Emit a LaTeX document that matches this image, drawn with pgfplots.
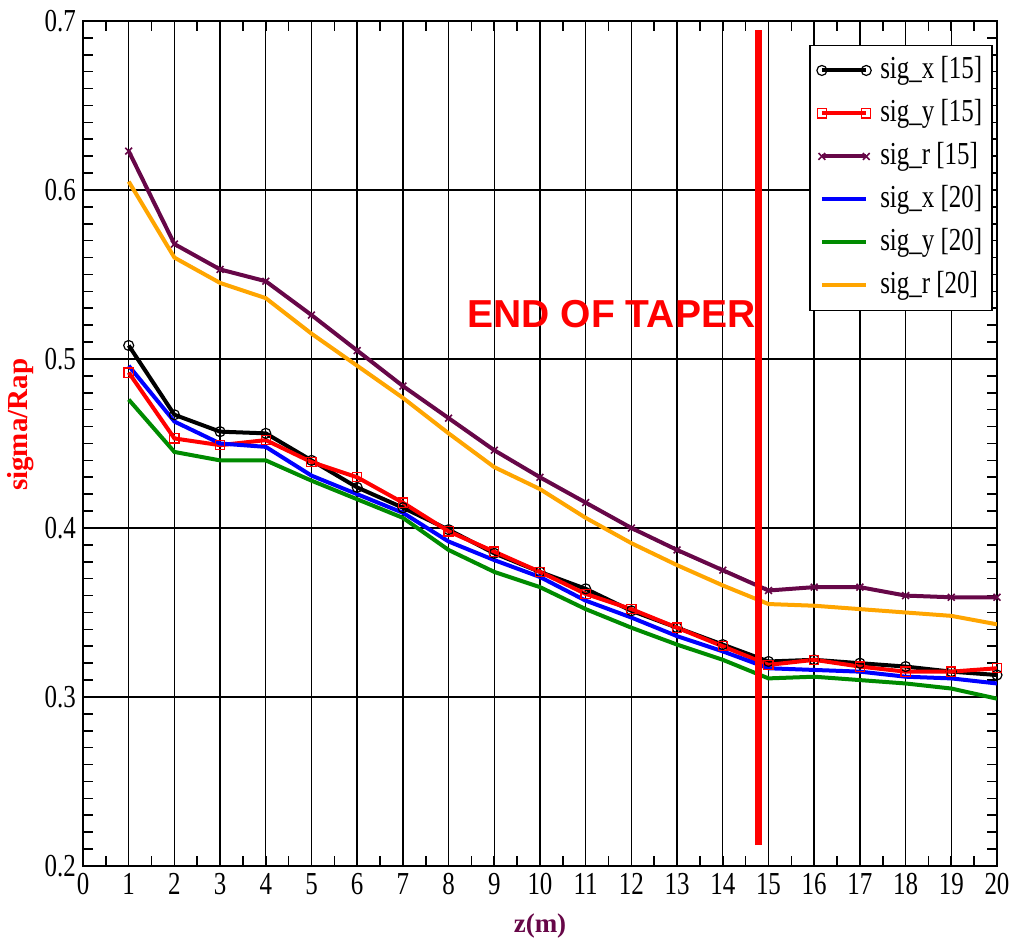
\documentclass[border=0pt]{standalone}
\usepackage{fontspec}
\setmainfont{Liberation Serif}[FakeStretch=0.78]
\newfontfamily\plainserif{Liberation Serif}
\newfontfamily\arialfont{Liberation Sans}
\usepackage{pgfplots}
\pgfplotsset{compat=1.18}
\definecolor{gmaroon}{RGB}{103,7,72}
\definecolor{ggreen}{RGB}{0,139,0}
\definecolor{gorange}{RGB}{255,165,0}
\definecolor{gblue}{RGB}{0,0,255}
\definecolor{gred}{RGB}{255,0,0}
\begin{document}
\begin{tikzpicture}
\path[use as bounding box] (-41.5pt,-37pt) rectangle (465.5pt,433pt);
\begin{axis}[
  scale only axis, width=457pt, height=422.5pt,
  xmin=0, xmax=20, ymin=0.2, ymax=0.7,
  xtick={0,1,...,20}, ytick={0.2,0.3,0.4,0.5,0.6,0.7},
  minor x tick num=1, minor y tick num=9,
  tick align=inside, major tick length=5pt, minor tick length=5pt,
  xtick pos=both, ytick pos=both,
  xticklabel pos=lower, yticklabel pos=left,
  grid=major, major grid style={black, line width=0.7pt},
  axis line style={line width=1.1pt},
  every tick/.style={black, line width=0.8pt},
  ticklabel style={font=\fontsize{16}{19}\selectfont},
  /pgf/number format/assume math mode=true,
  yticklabel style={/pgf/number format/.cd, fixed, precision=1},
  ylabel={\plainserif\bfseries sigma/Rap},
  ylabel style={text=gred, font=\fontsize{14.5}{17}\selectfont, at={(axis description cs:-0.068,0.522)}, anchor=center, rotate=0},
  xlabel={\plainserif\bfseries z(m)},
  xlabel style={text=gmaroon, font=\fontsize{13.5}{16}\selectfont, at={(axis description cs:0.5,-0.071)}, anchor=center},
  legend style={at={(0.9956,0.972)}, anchor=north east, draw=black, line width=0.8pt, fill=white,
    font=\fontsize{16}{19}\selectfont, inner xsep=3.5pt, inner ysep=3pt,
    nodes={inner sep=1.5pt, text height=12pt, text depth=4pt},
    row sep=2.5pt,
    /tikz/every odd column/.append style={column sep=3pt}},
  legend cell align=left,
  legend image code/.code={\draw[#1] plot coordinates {(0cm,0cm) (0.78cm,0cm)};},
]
\addplot[black, line width=2pt, mark=o, mark size=2.5pt, mark options={line width=0.6pt, solid}] coordinates {
(1,0.508) (2,0.467) (3,0.457) (4,0.456) (5,0.440) (6,0.424) (7,0.412) (8,0.399) (9,0.385) (10,0.374)
(11,0.364) (12,0.351) (13,0.341) (14,0.331) (15,0.321) (16,0.322) (17,0.320) (18,0.318) (19,0.315) (20,0.313)};
\addlegendentry{sig\_x [15]}
\addplot[gred, line width=2pt, mark=square, mark size=2.3pt, mark options={line width=0.6pt, solid}] coordinates {
(1,0.492) (2,0.453) (3,0.449) (4,0.452) (5,0.439) (6,0.430) (7,0.415) (8,0.398) (9,0.386) (10,0.374)
(11,0.361) (12,0.352) (13,0.341) (14,0.330) (15,0.319) (16,0.322) (17,0.318) (18,0.315) (19,0.315) (20,0.317)};
\addlegendentry{sig\_y [15]}
\addplot[gmaroon, line width=2pt, mark=x, mark size=2.4pt, mark options={line width=0.8pt, solid}] coordinates {
(1,0.623) (2,0.568) (3,0.553) (4,0.546) (5,0.526) (6,0.505) (7,0.484) (8,0.465) (9,0.446) (10,0.430)
(11,0.415) (12,0.400) (13,0.387) (14,0.375) (15,0.363) (16,0.365) (17,0.365) (18,0.360) (19,0.359) (20,0.359)};
\addlegendentry{sig\_r [15]}
\addplot[gblue, line width=2pt] coordinates {
(1,0.496) (2,0.463) (3,0.450) (4,0.448) (5,0.431) (6,0.420) (7,0.409) (8,0.392) (9,0.381) (10,0.371)
(11,0.357) (12,0.347) (13,0.336) (14,0.327) (15,0.317) (16,0.316) (17,0.315) (18,0.312) (19,0.311) (20,0.308)};
\addlegendentry{sig\_x [20]}
\addplot[ggreen, line width=2pt] coordinates {
(1,0.476) (2,0.445) (3,0.440) (4,0.440) (5,0.428) (6,0.417) (7,0.406) (8,0.387) (9,0.374) (10,0.365)
(11,0.352) (12,0.341) (13,0.331) (14,0.322) (15,0.311) (16,0.312) (17,0.310) (18,0.308) (19,0.305) (20,0.299)};
\addlegendentry{sig\_y [20]}
\addplot[gorange, line width=2pt] coordinates {
(1,0.605) (2,0.560) (3,0.545) (4,0.536) (5,0.515) (6,0.496) (7,0.477) (8,0.456) (9,0.436) (10,0.423)
(11,0.406) (12,0.391) (13,0.378) (14,0.366) (15,0.355) (16,0.354) (17,0.352) (18,0.350) (19,0.348) (20,0.343)};
\addlegendentry{sig\_r [20]}
\addplot[gred, line width=3.5pt, forget plot] coordinates {(14.78,0.2124) (14.78,0.6947)};
\node[text=gred, font=\arialfont\bfseries\fontsize{19.5}{22}\selectfont] at (axis cs:11.565,0.5266) {END OF TAPER};
\end{axis}
\end{tikzpicture}
\end{document}
